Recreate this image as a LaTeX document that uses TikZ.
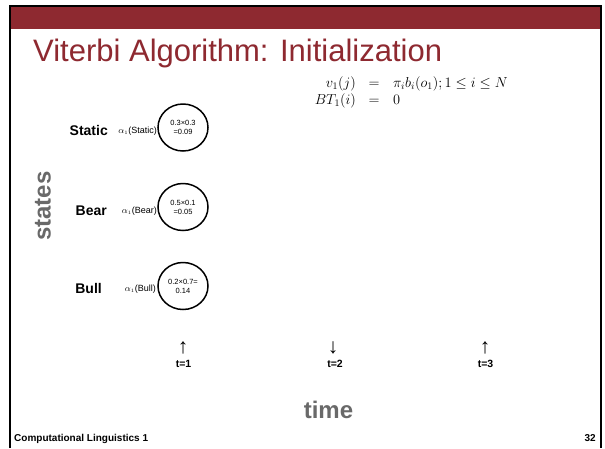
\documentclass[tikz,border=0pt]{standalone}
\usepackage{fontspec}
\setmainfont{Liberation Sans}
\usetikzlibrary{shapes.geometric}
\definecolor{slidered}{RGB}{142,41,48}
\definecolor{labelgray}{RGB}{105,105,105}
\tikzset{
  statebox/.style={draw, line width=1.5pt, ellipse, minimum width=50pt, minimum height=47pt, inner sep=0pt,
    font=\fontsize{7.5}{9}\selectfont, align=center},
  statename/.style={font=\fontsize{14}{15}\selectfont\bfseries, anchor=base east, inner sep=0pt},
  alphalabel/.style={font=\fontsize{9}{10}\selectfont, anchor=base east, inner sep=0pt},
  tick/.style={font=\fontsize{21}{21}\selectfont, inner sep=0pt},
  ticklabel/.style={font=\fontsize{10.5}{11}\selectfont\bfseries, anchor=base, inner sep=0pt},
  axislabel/.style={font=\fontsize{24}{26}\selectfont\bfseries, text=labelgray, inner sep=0pt},
  mathrow/.style={font=\fontsize{14}{16}\selectfont, inner sep=0pt, anchor=base},
}
\begin{document}
\begin{tikzpicture}[x=1pt,y=-1pt]
\useasboundingbox (0,0) rectangle (605,448);
% slide frame and header band
\fill[white] (0,0) rectangle (605,448);
\fill[slidered] (11,7) rectangle (600,29);
\draw[line width=2.2pt] (10,448) -- (10,6) -- (601,6) -- (601,448);
% title
\node[anchor=base west, inner sep=0pt, text=slidered, font=\fontsize{31}{34}\selectfont] (title) at (33,61) {Viterbi Algorithm: Initialization};
% initialization equations
\node[mathrow, anchor=base east] (l1) at (356,87) {$v_1(j)$};
\node[mathrow] (e1) at (374,87) {$=$};
\node[mathrow, anchor=base west] (r1) at (393,87) {$\pi_i b_i(o_1); 1\le i\le N$};
\node[mathrow, anchor=base east] (l2) at (356,104) {$BT_1(i)$};
\node[mathrow] (e2) at (374,104) {$=$};
\node[mathrow, anchor=base west] (r2) at (393,104) {$0$};
% states
\node[statebox] (static) at (183,127.5) {0.3×0.3\\=0.09};
\node[statebox] (bear) at (183,207) {0.5×0.1\\=0.05};
\node[statebox] (bull) at (183,286) {0.2×0.7=\\0.14};
\node[statename] (nstatic) at (108,135) {Static};
\node[statename] (nbear) at (107,215) {Bear};
\node[statename] (nbull) at (102,293) {Bull};
\node[alphalabel] (astatic) at (157,133) {$\alpha_{\scriptscriptstyle 1}$(Static)};
\node[alphalabel] (abear) at (157,213) {$\alpha_{\scriptscriptstyle 1}$(Bear)};
\node[alphalabel] (abull) at (156,291) {$\alpha_{\scriptscriptstyle 1}$(Bull)};
% time steps
\node[tick] (a1) at (183,347.5) {↑};
\node[tick] (a2) at (333,347.5) {↓};
\node[tick] (a3) at (485,347.5) {↑};
\node[ticklabel] (t1) at (183.5,367) {t=1};
\node[ticklabel] (t2) at (335,367) {t=2};
\node[ticklabel] (t3) at (485.5,367) {t=3};
% axis labels
\node[axislabel, rotate=90] (states) at (43,206) {states};
\node[axislabel, anchor=base] (time) at (328.5,418) {time};
% footer
\node[anchor=base west, inner sep=0pt, font=\fontsize{10}{11}\selectfont\bfseries] (foot) at (14,441) {Computational Linguistics 1};
\node[anchor=base east, inner sep=0pt, font=\fontsize{10}{11}\selectfont\bfseries] (page) at (596,441) {32};
\end{tikzpicture}
\end{document}
